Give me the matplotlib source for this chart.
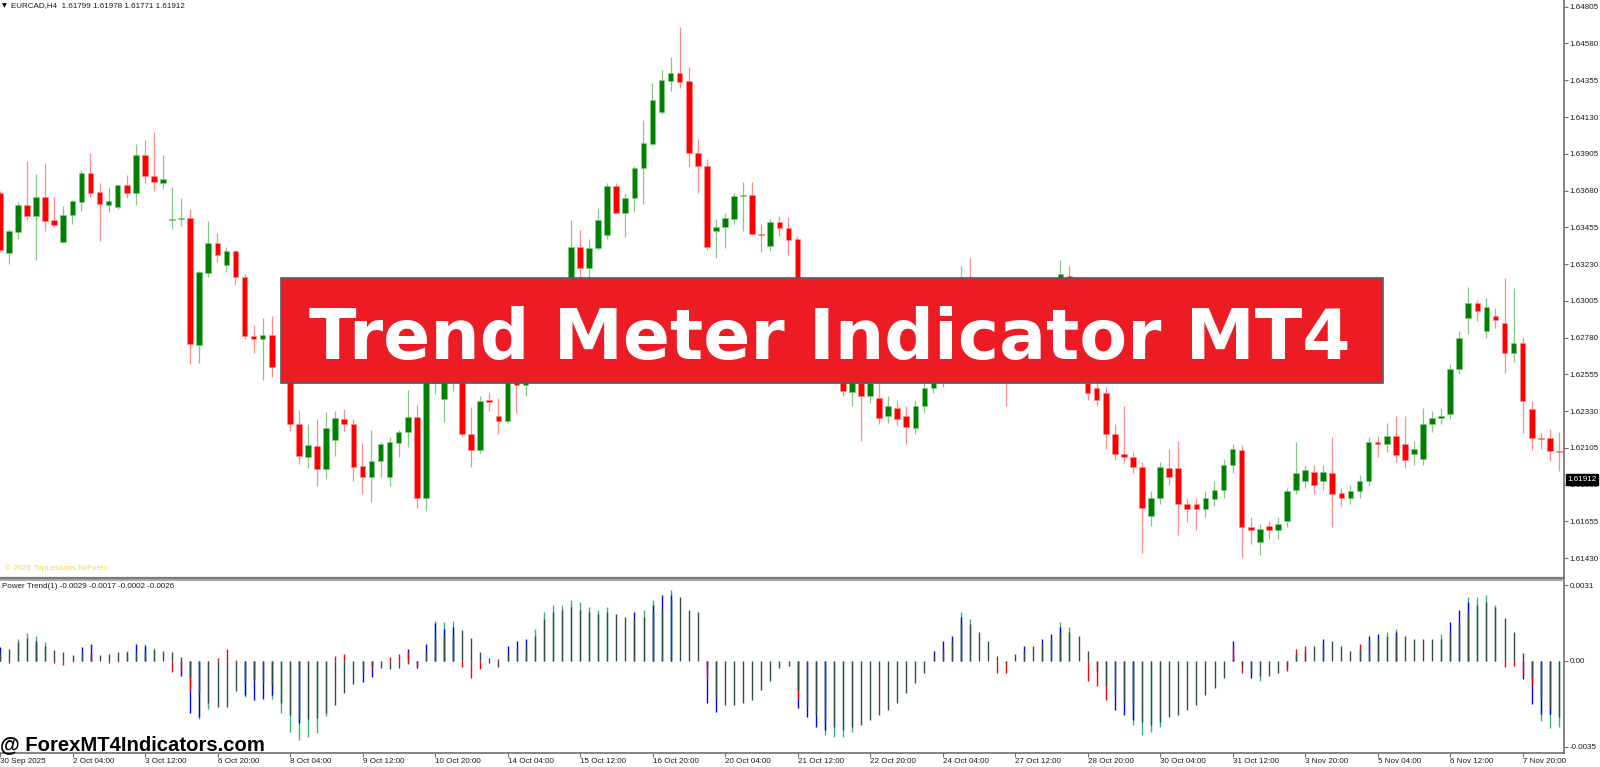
import matplotlib
matplotlib.use("Agg")
import matplotlib.pyplot as plt
from matplotlib.patches import Rectangle

plt.rcParams['font.family'] = ['Liberation Sans', 'DejaVu Sans']

# EURCAD H4 candles (open, high, low, close)
opens = [1.63662, 1.63298, 1.63426, 1.63594, 1.63526, 1.63640, 1.63500, 1.63367, 1.63528, 1.63607,
         1.63785, 1.63671, 1.63594, 1.63578, 1.63714, 1.63665, 1.63897, 1.63766, 1.63727, 1.63501,
         1.63505, 1.63514, 1.62732, 1.63176, 1.63359, 1.63226, 1.63311, 1.63151, 1.62787, 1.62771,
         1.62793, 1.62536, 1.62540, 1.62251, 1.62047, 1.62114, 1.61973, 1.62151, 1.62283, 1.62250,
         1.61994, 1.61929, 1.62022, 1.61927, 1.62133, 1.62200, 1.62292, 1.61801, 1.62500, 1.62407,
         1.62550, 1.62550, 1.62188, 1.62091, 1.62401, 1.62298, 1.62270, 1.62560, 1.62490, 1.62560,
         1.62680, 1.62800, 1.62920, 1.63050, 1.63333, 1.63209, 1.63326, 1.63405, 1.63705, 1.63541,
         1.63632, 1.63818, 1.63964, 1.64160, 1.64352, 1.64400, 1.64348, 1.63911, 1.63833, 1.63433,
         1.63459, 1.63508, 1.63645, 1.63655, 1.63411, 1.63343, 1.63486, 1.63451, 1.63382, 1.62900,
         1.62820, 1.62720, 1.62620, 1.62560, 1.62450, 1.62500, 1.62420, 1.62410, 1.62300, 1.62350,
         1.62300, 1.62225, 1.62360, 1.62470, 1.62520, 1.62620, 1.62700, 1.62800, 1.62720, 1.62830,
         1.62760, 1.62700, 1.62620, 1.62720, 1.62800, 1.62880, 1.62950, 1.63050, 1.63160, 1.63000,
         1.62500, 1.62470, 1.62443, 1.62192, 1.62070, 1.62050, 1.61990, 1.61690, 1.61800, 1.61980,
         1.61980, 1.61760, 1.61760, 1.61730, 1.61790, 1.61850, 1.62000, 1.62090, 1.61620, 1.61530,
         1.61630, 1.61600, 1.61660, 1.61850, 1.61900, 1.61960, 1.61900, 1.61950, 1.61830, 1.61800,
         1.61840, 1.61900, 1.62140, 1.62130, 1.62180, 1.62130, 1.62070, 1.62040, 1.62250, 1.62290,
         1.62310, 1.62590, 1.62900, 1.62990, 1.62820, 1.62910, 1.62867, 1.62684, 1.62745, 1.62343,
         1.62168, 1.62164, 1.62086]
highs = [1.63677, 1.63444, 1.63611, 1.63859, 1.63781, 1.63851, 1.63640, 1.63585, 1.63622, 1.63807,
         1.63907, 1.63729, 1.63704, 1.63714, 1.63776, 1.63963, 1.63987, 1.64041, 1.63900, 1.63700,
         1.63635, 1.63569, 1.63187, 1.63493, 1.63422, 1.63334, 1.63316, 1.63168, 1.62860, 1.62900,
         1.62912, 1.62600, 1.62560, 1.62335, 1.62252, 1.62279, 1.62325, 1.62332, 1.62343, 1.62279,
         1.62133, 1.62217, 1.62141, 1.62173, 1.62217, 1.62457, 1.62366, 1.62650, 1.62700, 1.62600,
         1.62650, 1.62600, 1.62355, 1.62422, 1.62450, 1.62413, 1.62600, 1.62620, 1.62580, 1.62720,
         1.62860, 1.62980, 1.63132, 1.63502, 1.63438, 1.63386, 1.63574, 1.63726, 1.63726, 1.63667,
         1.63829, 1.64109, 1.64340, 1.64416, 1.64499, 1.64680, 1.64439, 1.63996, 1.63873, 1.63504,
         1.63541, 1.63667, 1.63730, 1.63734, 1.63473, 1.63508, 1.63527, 1.63519, 1.63403, 1.62980,
         1.62900, 1.62780, 1.62680, 1.62620, 1.62560, 1.62540, 1.62540, 1.62500, 1.62420, 1.62400,
         1.62360, 1.62400, 1.62520, 1.62580, 1.62660, 1.62760, 1.63220, 1.63270, 1.62880, 1.62920,
         1.62860, 1.62800, 1.62780, 1.62850, 1.62920, 1.63000, 1.63100, 1.63255, 1.63220, 1.63040,
         1.62560, 1.62500, 1.62480, 1.62250, 1.62360, 1.62080, 1.62020, 1.61840, 1.62020, 1.62100,
         1.62150, 1.61800, 1.61800, 1.61840, 1.61900, 1.62040, 1.62130, 1.62120, 1.61680, 1.61640,
         1.61660, 1.61680, 1.61860, 1.62140, 1.62000, 1.62000, 1.62000, 1.62170, 1.61860, 1.61880,
         1.61940, 1.62170, 1.62180, 1.62260, 1.62300, 1.62300, 1.62150, 1.62350, 1.62330, 1.62350,
         1.62620, 1.62820, 1.63090, 1.63010, 1.63020, 1.62960, 1.63147, 1.63083, 1.62782, 1.62394,
         1.62194, 1.62219, 1.62204]
lows = [1.63304, 1.63230, 1.63383, 1.63500, 1.63257, 1.63435, 1.63454, 1.63356, 1.63476, 1.63553,
        1.63640, 1.63371, 1.63551, 1.63569, 1.63635, 1.63591, 1.63727, 1.63677, 1.63689, 1.63445,
        1.63466, 1.62616, 1.62624, 1.63151, 1.63242, 1.63183, 1.63104, 1.62771, 1.62683, 1.62520,
        1.62539, 1.62500, 1.62210, 1.62008, 1.61983, 1.61869, 1.61913, 1.62058, 1.62206, 1.61900,
        1.61824, 1.61772, 1.61927, 1.61872, 1.62052, 1.62112, 1.61737, 1.61716, 1.62435, 1.62263,
        1.62455, 1.62178, 1.61988, 1.62074, 1.62331, 1.62190, 1.62260, 1.62318, 1.62424, 1.62520,
        1.62620, 1.62750, 1.62880, 1.63000, 1.63000, 1.63100, 1.63316, 1.63384, 1.63539, 1.63393,
        1.63547, 1.63595, 1.63958, 1.64148, 1.64292, 1.64305, 1.63827, 1.63665, 1.63316, 1.63270,
        1.63326, 1.63473, 1.63433, 1.63409, 1.63301, 1.63310, 1.63399, 1.63287, 1.62870, 1.62800,
        1.62680, 1.62580, 1.62520, 1.62420, 1.62361, 1.62147, 1.62380, 1.62250, 1.62260, 1.62240,
        1.62130, 1.62190, 1.62320, 1.62440, 1.62480, 1.62560, 1.62620, 1.62660, 1.62620, 1.62700,
        1.62660, 1.62360, 1.62550, 1.62650, 1.62720, 1.62800, 1.62880, 1.62980, 1.62900, 1.62560,
        1.62400, 1.62360, 1.62100, 1.62030, 1.62010, 1.61950, 1.61460, 1.61630, 1.61760, 1.61880,
        1.61570, 1.61650, 1.61600, 1.61680, 1.61750, 1.61800, 1.61950, 1.61440, 1.61520, 1.61450,
        1.61550, 1.61550, 1.61620, 1.61820, 1.61860, 1.61820, 1.61850, 1.61620, 1.61750, 1.61760,
        1.61800, 1.61870, 1.62050, 1.62080, 1.62020, 1.61980, 1.62000, 1.62000, 1.62200, 1.62250,
        1.62280, 1.62560, 1.62800, 1.62880, 1.62780, 1.62840, 1.62565, 1.62629, 1.62198, 1.62092,
        1.62100, 1.62026, 1.61963]
closes = [1.63316, 1.63432, 1.63594, 1.63522, 1.63640, 1.63495, 1.63469, 1.63530, 1.63613, 1.63785,
          1.63667, 1.63596, 1.63613, 1.63714, 1.63667, 1.63900, 1.63766, 1.63731, 1.63752, 1.63503,
          1.63508, 1.62742, 1.63181, 1.63359, 1.63288, 1.63311, 1.63151, 1.62787, 1.62771, 1.62793,
          1.62600, 1.62542, 1.62251, 1.62057, 1.62120, 1.61973, 1.62227, 1.62288, 1.62250, 1.61987,
          1.61929, 1.62026, 1.62126, 1.62139, 1.62200, 1.62292, 1.61801, 1.62620, 1.62620, 1.62550,
          1.62600, 1.62190, 1.62091, 1.62392, 1.62389, 1.62269, 1.62550, 1.62490, 1.62560, 1.62680,
          1.62800, 1.62920, 1.63050, 1.63333, 1.63209, 1.63326, 1.63498, 1.63705, 1.63544, 1.63634,
          1.63818, 1.63970, 1.64236, 1.64355, 1.64400, 1.64342, 1.63911, 1.63833, 1.63336, 1.63457,
          1.63512, 1.63645, 1.63655, 1.63413, 1.63408, 1.63486, 1.63451, 1.63378, 1.62900, 1.62820,
          1.62720, 1.62620, 1.62560, 1.62454, 1.62520, 1.62420, 1.62500, 1.62290, 1.62360, 1.62280,
          1.62235, 1.62360, 1.62470, 1.62520, 1.62620, 1.62700, 1.62800, 1.62720, 1.62830, 1.62760,
          1.62700, 1.62620, 1.62720, 1.62800, 1.62880, 1.62950, 1.63050, 1.63172, 1.63000, 1.62620,
          1.62440, 1.62400, 1.62192, 1.62070, 1.62050, 1.61990, 1.61740, 1.61800, 1.61990, 1.61930,
          1.61760, 1.61730, 1.61730, 1.61800, 1.61850, 1.62000, 1.62100, 1.61620, 1.61600, 1.61610,
          1.61600, 1.61640, 1.61840, 1.61950, 1.61970, 1.61880, 1.61960, 1.61820, 1.61800, 1.61840,
          1.61900, 1.62140, 1.62130, 1.62180, 1.62060, 1.62030, 1.62100, 1.62250, 1.62290, 1.62300,
          1.62590, 1.62780, 1.62990, 1.62940, 1.62970, 1.62890, 1.62684, 1.62745, 1.62392, 1.62164,
          1.62161, 1.62088, 1.62080]

# Power Trend(1) histogram buffers
pt_dark = [0.00038, 0.00048, 0.00079, 0.00093, 0.00075, 0.00063, 0.00045, 0.00038, 0.00024, 0.00034,
           0.00029, 0.00024, 0.00029, 0.00038, 0.00035, 0.00034, 0.00038, 0.00045, 0.00041, 0.00035,
           0.00015, -0.00067, -0.00132, -0.0017, -0.00186, -0.00186, -0.00122, -0.00084, -0.00078, -0.00084,
           -0.00098, -0.00173, -0.0022, -0.00234, -0.00238, -0.00234, -0.00214, -0.0018, -0.00132, -0.00095,
           -0.00048, -0.0002, -0.0003, -0.00034, -0.0003, -0.00014, -0.00005, 0.00031, 0.00093, 0.00106,
           0.00106, 0.00127, 0.00093, 0.00038, 0.00014, -0.00023, 0.0003, 0.0005, 0.0006, 0.0010,
           0.0017, 0.0020, 0.0021, 0.0022, 0.0021, 0.0020, 0.0019, 0.0020, 0.0019, 0.0018,
           0.0017, 0.0018, 0.0020, 0.0021, 0.0025, 0.0026, 0.0021, 0.0020, -0.0003, -0.0015,
           -0.0018, -0.0018, -0.0017, -0.0016, -0.0012, -0.0008, -0.0003, -0.0002, -0.0012, -0.0018,
           -0.0022, -0.0025, -0.0027, -0.0028, -0.0027, -0.0026, -0.0024, -0.0022, -0.0020, -0.0017,
           -0.0013, -0.0009, -0.0005, 0.0002, 0.0005, 0.0008, 0.0015, 0.0015, 0.0012, 0.0008,
           0.0002, -0.0001, 0.0003, 0.0004, 0.0006, 0.0007, 0.0009, 0.0012, 0.0012, 0.0010,
           0.0004, -0.0004, -0.0010, -0.0014, -0.0017, -0.0020, -0.0025, -0.0026, -0.0025, -0.0023,
           -0.0022, -0.0020, -0.0018, -0.0014, -0.0011, -0.0007, 0.0001, -0.0002, -0.0005, -0.0006,
           -0.0006, -0.0005, -0.0003, 0.0003, 0.0004, 0.0006, 0.0007, 0.0008, 0.0006, 0.0004,
           0.0005, 0.0008, 0.0009, 0.0010, 0.0010, 0.0010, 0.0009, 0.0009, 0.0009, 0.0009,
           0.0012, 0.0016, 0.0020, 0.0023, 0.0024, 0.0022, 0.00174, 0.0012, 0.00031, -0.00067,
           -0.0015, -0.00196, -0.0023]
pt_red = [0, -0.00007, 0, 0, 0, 0, -0.0001, -0.00016, -0.00004, 0,
          0.00033, 0, -0.0001, -0.00005, 0, 0, 0, 0, 0, -0.00044,
          -0.00044, -0.00118, 0, 0, 0.00014, 0.00048, 0.00004, 0, -0.00082, 0,
          0, 0, 0, 0, 0, 0, 0, 0.0002, 0.00029, 0,
          0, -0.00033, 0, 0.00015, 0.00029, 0.00038, -0.00019, 0, 0, 0,
          0, -0.00023, -0.00068, -0.00033, -0.0001, 0.00008, 0, 0, 0, 0,
          0, 0, 0, 0, 0, 0, 0, 0, 0, 0,
          0, 0, 0, 0, 0, 0, 0, 0, -0.0007, 0,
          0, 0, 0, 0, 0, 0, 0, 0, -0.0015, 0,
          0, 0, 0, 0, 0, 0, 0, 0, 0, 0,
          0, 0, 0, 0, 0, 0, 0, 0, 0, 0,
          -0.0005, -0.0005, 0, 0, 0, 0, 0, 0, 0, 0,
          -0.0008, -0.0010, -0.0016, 0, 0, 0, 0, 0, 0, 0,
          0, 0, 0, 0, 0, 0, 0.0006, -0.0005, 0, 0,
          0, 0, -0.0004, 0.0005, 0.0006, 0, 0, 0, 0, 0,
          0.0007, 0, 0, 0, 0, 0, 0, 0, 0, 0,
          0, 0, 0, 0, 0, 0, -0.00026, -0.0002, -0.00057, -0.00098,
          0, 0, 0]
pt_blue = [0.00059, 0, 0, 0, 0.00082, 0, 0, 0, 0, 0.00059,
           0.00068, 0, 0, 0, 0, 0.00068, 0.00061, 0, 0, 0,
           -0.0006, -0.00214, -0.00227, 0, 0, 0, 0, -0.00139, -0.00159, -0.00156,
           -0.00139, 0, 0, -0.00254, 0, 0, 0, 0, 0, 0,
           -0.00084, -0.00064, 0, 0, 0, 0.00049, -0.0003, 0.00068, 0.00154, 0.00131,
           0.0014, 0, 0, 0, 0, 0, 0.0006, 0.0008, 0.0009, 0,
           0, 0, 0, 0, 0, 0, 0, 0, 0, 0,
           0.0020, 0, 0.0023, 0.0027, 0.0027, 0, 0, 0, -0.0017, -0.0021,
           0, 0, 0, 0, 0, 0, 0, 0, -0.0019, -0.0023,
           -0.0027, -0.0028, 0, 0, 0, 0, 0, 0, 0, 0,
           0, 0, 0, 0.0004, 0.0008, 0.0010, 0.0018, 0, 0, 0,
           0, 0, 0, 0.0006, 0, 0.0009, 0.0011, 0.0014, 0, 0,
           0, 0, 0, -0.0020, -0.0022, -0.0024, 0, 0, 0, 0,
           0, 0, 0, 0, 0, 0, 0.0008, 0, -0.0007, 0,
           0, 0, 0, 0, 0, 0, 0.0009, 0, 0, 0,
           0, 0.0010, 0.0011, 0, 0.0012, 0, 0, 0, 0, 0,
           0.0016, 0.0021, 0.0024, 0, 0, 0, 0, 0, -0.00073, -0.00177,
           -0.00216, -0.00216, 0]
pt_green = [0, 0, 0.0009, 0.00113, 0.00102, 0.00078, 0, 0, 0, 0,
            0, 0, 0, 0, 0.00041, 0, 0.00068, 0.00054, 0, 0,
            0, 0, -0.00237, -0.00196, 0, 0, 0, -0.00148, 0, 0,
            -0.00156, -0.00214, -0.00288, -0.00322, -0.00312, -0.00293, -0.00223, 0, 0, 0,
            0, 0, 0, 0, 0, 0, 0, 0, 0.00163, 0.00158,
            0.00163, 0, 0, 0, 0, 0, 0, 0, 0, 0.0013,
            0.0020, 0.0023, 0.0023, 0.0025, 0.0024, 0.0022, 0.0021, 0.0022, 0, 0,
            0, 0.0021, 0.0025, 0, 0.0029, 0, 0, 0, 0, 0,
            0, 0, 0, 0, 0, 0, 0, 0, 0, 0,
            0, -0.0030, -0.0031, -0.0031, -0.0029, 0, 0, 0, 0, 0,
            0, 0, 0, 0, 0, 0, 0.0020, 0.0017, 0, 0,
            0, 0, 0, 0, 0, 0, 0, 0.0016, 0.0014, 0,
            0, 0, 0, 0, 0, -0.0026, -0.0030, -0.0029, -0.0027, 0,
            0, 0, 0, 0, 0, 0, 0, 0, 0, -0.0008,
            0, 0, 0, 0, 0, 0, 0, 0, 0, 0,
            0, 0, 0, 0.0012, 0.0013, 0, 0, 0, 0, 0.0011,
            0, 0, 0.0026, 0.0026, 0.0027, 0.0023, 0, 0, 0, 0,
            -0.00244, -0.00272, -0.00268]

time_labels = ["30 Sep 2025", "2 Oct 04:00", "3 Oct 12:00", "6 Oct 20:00", "8 Oct 04:00",
               "9 Oct 12:00", "10 Oct 20:00", "14 Oct 04:00", "15 Oct 12:00", "16 Oct 20:00",
               "20 Oct 04:00", "21 Oct 12:00", "22 Oct 20:00", "24 Oct 04:00", "27 Oct 12:00",
               "28 Oct 20:00", "30 Oct 04:00", "31 Oct 12:00", "3 Nov 20:00", "5 Nov 04:00",
               "6 Nov 12:00", "7 Nov 20:00"]
price_ticks = [1.64805, 1.64580, 1.64355, 1.64130, 1.63905, 1.63680, 1.63455, 1.63230,
               1.63005, 1.62780, 1.62555, 1.62330, 1.62105, 1.61880, 1.61655, 1.61430]
last_price = 1.61912

W, H = 1600, 767
fig = plt.figure(figsize=(W / 100, H / 100), dpi=100)
fig.patch.set_facecolor('white')

ax = fig.add_axes([0, 1 - 578 / H, 1564 / W, 578 / H])
ax2 = fig.add_axes([0, 1 - 753 / H, 1564 / W, 173 / H])

n = len(opens)
xs = list(range(n))
axis_grey = '#6e6e6e'
small = 5.8

# candles
for i in xs:
    o, h, l, c = opens[i], highs[i], lows[i], closes[i]
    up = c >= o
    body_col = '#008000' if up else '#ff0000'
    wick_col = '#86c886' if up else '#ff8c8c'
    ax.vlines(i, l, h, color=wick_col, lw=0.9, zorder=2)
    bottom = min(o, c)
    height = max(abs(c - o), 0.00006)
    ax.add_patch(Rectangle((i - 0.31, bottom), 0.62, height, facecolor=body_col,
                           edgecolor=wick_col, lw=0.4, zorder=3))

ax.set_xlim(0.022, 172.56)
ax.set_ylim(1.61309, 1.64846)
ax.yaxis.tick_right()
ax.set_yticks(price_ticks)
ax.set_yticklabels(['%.5f' % p for p in price_ticks])
ax.tick_params(axis='y', direction='out', length=3, width=0.8, color=axis_grey,
               labelsize=small, pad=1.2, labelcolor='#1a1a1a')
ax.set_xticks([])
for s in ['left', 'top']:
    ax.spines[s].set_visible(False)
ax.spines['right'].set_color(axis_grey)
ax.spines['right'].set_linewidth(1.2)
ax.spines['bottom'].set_color('#7a7a7a')
ax.spines['bottom'].set_linewidth(1.6)

# current price tag
ax.annotate('%.5f' % last_price, xy=(1.0, last_price), xycoords=('axes fraction', 'data'),
            xytext=(2.5, 0), textcoords='offset points', ha='left', va='center',
            fontsize=small, color='white',
            bbox=dict(boxstyle='square,pad=0.2', fc='black', ec='black'),
            annotation_clip=False, zorder=10)

# indicator histogram, later buffers drawn over earlier ones
ax2.vlines(xs, 0, pt_green, color='#3cb371', lw=1.0)
ax2.vlines(xs, 0, pt_blue, color='#0000ff', lw=1.0)
ax2.vlines(xs, 0, pt_red, color='#ff0000', lw=1.0)
ax2.vlines(xs, 0, pt_dark, color='#2f4f4f', lw=1.0)
ax2.set_xlim(0.022, 172.56)
ax2.set_ylim(-0.003755, 0.003306)
ax2.yaxis.tick_right()
ax2.set_yticks([0.0031, 0.0, -0.0035])
ax2.set_yticklabels(['0.0031', '0.00', '-0.0035'])
ax2.tick_params(axis='y', direction='out', length=3, width=0.8, color=axis_grey,
                labelsize=small, pad=1.2, labelcolor='#1a1a1a')
tick_pos = [8 * k for k in range(len(time_labels))]
ax2.set_xticks(tick_pos)
ax2.set_xticklabels(time_labels)
ax2.tick_params(axis='x', direction='out', length=3, width=0.8, color=axis_grey,
                labelsize=small, pad=0.8, labelcolor='#1a1a1a')
for lab in ax2.get_xticklabels():
    lab.set_ha('left')
ax2.spines['left'].set_visible(False)
for s in ['top', 'right', 'bottom']:
    ax2.spines[s].set_color(axis_grey)
    ax2.spines[s].set_linewidth(1.2)
ax2.spines['top'].set_color('#9a9a9a')

# texts
fig.text(2 / W, 1 - 6 / H, '\u25bc', fontsize=4.5, color='black', va='center', ha='left',
         family=['DejaVu Sans'])
fig.text(11 / W, 1 - 6 / H, 'EURCAD,H4  1.61799 1.61978 1.61771 1.61912', fontsize=small,
         color='#1a1a1a', va='center', ha='left')
fig.text(5 / W, 1 - 568 / H, '\u00a9 2026 TopLessons.In/Forex', fontsize=small,
         color='#f7d44a', va='center', ha='left')
fig.text(2 / W, 1 - 587 / H, 'Power Trend(1) -0.0029 -0.0017 -0.0002 -0.0026', fontsize=small,
         color='#1a1a1a', va='center', ha='left')
fig.text(0 / W, 1 - 745 / H, '@ ForexMT4Indicators.com', fontsize=14.6, fontweight='bold',
         color='black', va='center', ha='left')

# title banner
fig.patches.append(Rectangle((281 / W, 1 - 383 / H), 1102 / W, 105 / H, transform=fig.transFigure,
                             facecolor='#ed1c24', edgecolor='#5a5a5a', lw=1.2, zorder=20))
fig.text(830 / W, 1 - 359 / H, 'Trend Meter Indicator MT4', fontsize=50, fontweight='bold',
         color='white', va='baseline', ha='center', zorder=21, family=['DejaVu Sans'])

fig.savefig('out.png', dpi=100)
